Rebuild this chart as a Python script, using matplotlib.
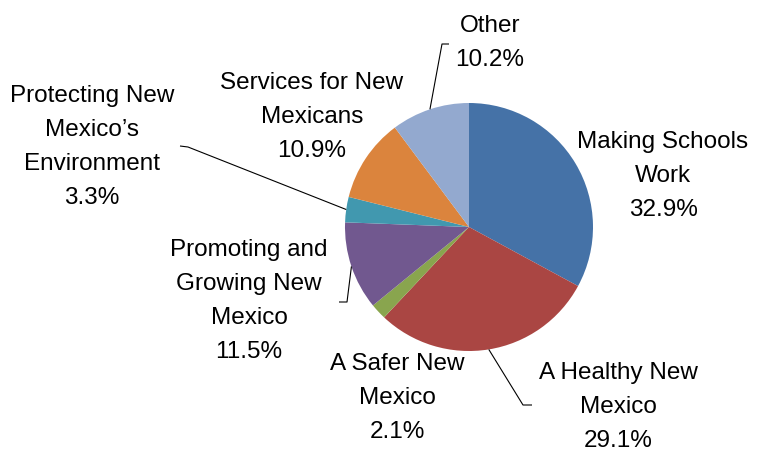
import numpy as np
import matplotlib
matplotlib.use("Agg")
import matplotlib.pyplot as plt

categories = ["Making Schools\nWork", "A Healthy New\nMexico", "A Safer New\nMexico",
              "Promoting and\nGrowing New\nMexico", "Protecting New\nMexico\u2019s\nEnvironment",
              "Services for New\nMexicans", "Other"]
values = [32.9, 29.1, 2.1, 11.5, 3.3, 10.9, 10.2]
colors = ["#4572A7", "#AA4643", "#89A54E", "#71588F", "#4198AF", "#DB843D", "#93A9CF"]

W, H = 760, 453
fig = plt.figure(figsize=(W / 100, H / 100), dpi=100)
ax = fig.add_axes([0, 0, 1, 1])
ax.set_xlim(0, W)
ax.set_ylim(0, H)
ax.set_aspect("equal")
ax.axis("off")

cx, cy, r = 469, H - 227, 124
wedges, _ = ax.pie(values, colors=colors, startangle=90, counterclock=False,
                   center=(cx, cy), radius=r, frame=True,
                   wedgeprops=dict(linewidth=0))
ax.set_xlim(0, W)
ax.set_ylim(0, H)
ax.axis("off")

# label centres (pixel coords from top)
label_pos = [(663, 176), (618, 407), (397, 398), (249, 301), (92, 147), (312, 117), (490, 43)]
# leader lines: elbow and end points (pixel coords), None = no leader
leaders = [None,
           [(523, 405), (532, 405)],
           None,
           [(347, 302), (339, 302)],
           [(188, 147), (180, 146)],
           None,
           [(442, 44), (449, 44)]]

for w, lab, v, (lx, ly), ld in zip(wedges, categories, values, label_pos, leaders):
    ax.text(lx, H - ly, f"{lab}\n{v:.1f}%", ha="center", va="center",
            multialignment="center", fontsize=17.5, family="Liberation Sans",
            linespacing=1.72, color="black")
    if ld is not None:
        mid = np.deg2rad((w.theta1 + w.theta2) / 2)
        xs = [cx + r * np.cos(mid)] + [p[0] for p in ld]
        ys = [cy + r * np.sin(mid)] + [H - p[1] for p in ld]
        ax.plot(xs, ys, color="black", linewidth=0.8, solid_capstyle="butt")

fig.savefig("out.png", dpi=100)
